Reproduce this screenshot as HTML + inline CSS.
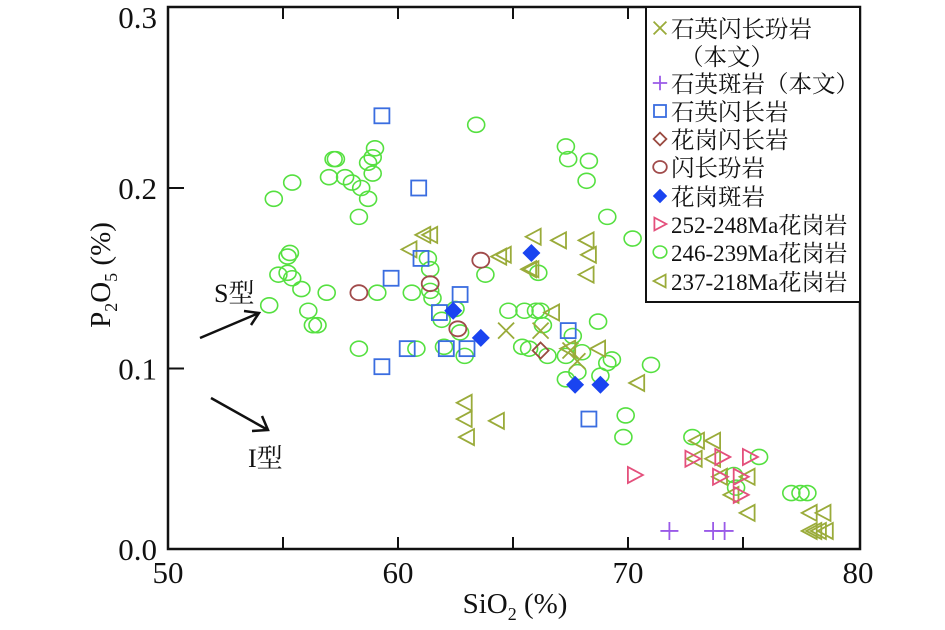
<!DOCTYPE html>
<html><head><meta charset="utf-8"><style>
body{margin:0;background:#fff;}
svg{display:block;}
text{font-family:"Liberation Serif","Noto Serif CJK SC","Noto Sans CJK SC",serif;fill:#111;}
</style></head><body>
<svg id="chart" width="945" height="630" viewBox="0 0 945 630" xmlns="http://www.w3.org/2000/svg">
<rect x="168" y="7" width="692" height="542" fill="none" stroke="#111" stroke-width="2.5"/>
<g id="ticks"></g>
<g id="marks"></g>
<text x="515" y="613" text-anchor="middle" font-size="29">SiO<tspan font-size="18" dy="7">2</tspan><tspan dy="-7"> (%)</tspan></text>
<text transform="translate(110,275) rotate(-90)" text-anchor="middle" font-size="29">P<tspan font-size="18" dy="7">2</tspan><tspan dy="-7">O</tspan><tspan font-size="18" dy="7">5</tspan><tspan dy="-7"> (%)</tspan></text>
<text x="214" y="302" font-size="26">S型</text>
<text x="248" y="467" font-size="26">I型</text>
<g stroke="#111" stroke-width="2.5" fill="none"><line x1="200" y1="338" x2="259" y2="313"/><polyline points="244,311 259,313 251,325"/></g>
<g stroke="#111" stroke-width="2.5" fill="none"><line x1="211" y1="398" x2="268" y2="430"/><polyline points="262,416 268,430 252,431"/></g>
<g>
<rect x="646" y="7" width="214" height="295" fill="#fff" stroke="#111" stroke-width="2"/>
<g id="legend-items"></g>
</g>
</svg>
<script>
const xTicks=[50,60,70,80];
const yTicks=[0.0,0.1,0.2,0.3];
const yTickLabels=["0.0","0.1","0.2","0.3"];
const gXs=[54.6,55.4,57.2,57.3,57.0,57.7,58.0,58.4,58.9,59.0,58.7,58.9,58.7,58.3,54.8,55.3,55.2,55.2,55.4,55.8,56.1,56.3,56.5,56.9,54.4,58.3,59.1,60.8,60.6,61.3,61.4,61.4,61.9,62.0,62.7,63.4,63.8,64.8,65.5,66.0,66.2,65.4,66.1,66.3,65.7,67.3,67.4,68.3,68.2,69.1,70.2,68.7,67.6,67.3,68.0,69.1,69.3,71.0,69.9,69.8,67.3,67.8,68.8,74.7,75.7,74.6,77.1,77.5,77.8,72.8,66.5,62.9,62.5,61.5];
const gYs=[0.194,0.203,0.216,0.216,0.206,0.206,0.203,0.200,0.208,0.222,0.214,0.217,0.194,0.184,0.152,0.164,0.162,0.153,0.150,0.144,0.132,0.124,0.124,0.142,0.135,0.111,0.142,0.111,0.142,0.161,0.155,0.143,0.127,0.112,0.120,0.235,0.152,0.132,0.132,0.132,0.132,0.112,0.153,0.124,0.111,0.223,0.216,0.215,0.204,0.184,0.172,0.126,0.118,0.107,0.109,0.103,0.105,0.102,0.074,0.062,0.094,0.098,0.096,0.034,0.051,0.041,0.031,0.031,0.031,0.062,0.107,0.107,0.133,0.139];
const oXs=[60.5,61.4,61.1,64.6,65.9,65.8,67.0,68.2,68.3,68.2,64.4,65.7,66.7,67.4,68.7,70.4,62.9,62.9,64.3,63.0,73.0,73.7,72.9,73.7,74.0,75.2,74.5,75.2,77.9,78.5,77.9,78.1,78.3,78.6];
const oYs=[0.166,0.174,0.174,0.163,0.173,0.155,0.171,0.171,0.163,0.152,0.162,0.155,0.131,0.111,0.111,0.092,0.081,0.072,0.071,0.062,0.060,0.060,0.050,0.050,0.040,0.040,0.030,0.020,0.020,0.020,0.010,0.010,0.010,0.010];
const rXs=[70.3,74.1,75.3,74.0,74.9,74.9,72.8];
const rYs=[0.041,0.051,0.051,0.040,0.040,0.030,0.050];
const sqXs=[59.3,60.9,61.0,59.7,62.7,61.8,59.3,60.4,62.1,63.0,67.4,68.3];
const sqYs=[0.240,0.200,0.161,0.150,0.141,0.131,0.101,0.111,0.111,0.111,0.121,0.072];
const gdXs=[66.2];
const gdYs=[0.110];
const dpXs=[58.3,61.4,63.6,62.6];
const dpYs=[0.142,0.147,0.160,0.122];
const fdXs=[62.4,63.6,65.8,67.7,68.8];
const fdYs=[0.132,0.117,0.164,0.091,0.091];
const crXs=[64.7,66.2,67.5,67.8];
const crYs=[0.121,0.121,0.110,0.104];
const plXs=[71.8,73.7,74.2];
const plYs=[0.010,0.010,0.010];
const legendLabels=["石英闪长玢岩","（本文）","石英斑岩（本文）","石英闪长岩","花岗闪长岩","闪长玢岩","花岗斑岩","252-248Ma花岗岩","246-239Ma花岗岩","237-218Ma花岗岩"];

const NS="http://www.w3.org/2000/svg";
const X=v=>168+(v-50)*23;
const Y=v=>549-v*1805;
function mk(tag,attrs,parent){const e=document.createElementNS(NS,tag);for(const k in attrs)e.setAttribute(k,attrs[k]);parent.appendChild(e);return e;}
const ticks=document.getElementById('ticks');
const marks=document.getElementById('marks');
[55,60,65,70,75].forEach(v=>{
  let t=mk('line',{x1:X(v),x2:X(v),y1:549,y2:537,stroke:'#111','stroke-width':2},ticks);
  
  
  let t2=mk('line',{x1:X(v),x2:X(v),y1:7,y2:19,stroke:'#111','stroke-width':2},ticks);
  
  
});
xTicks.forEach(v=>{
  let t=mk('text',{x:X(v),y:583,'text-anchor':'middle','font-size':31},ticks);t.textContent=v;
  
  
});
yTicks.forEach((v,i)=>{
  if(i>0&&i<3){let l=mk('line',{x1:168,x2:184,y1:Y(v),y2:Y(v),stroke:'#111','stroke-width':2},ticks);
  
  }
  let y=Y(v)+11; if(y<28)y=28;
  let t=mk('text',{x:157,y:y,'text-anchor':'end','font-size':31},ticks);t.textContent=yTickLabels[i];
  
  
});
function marker(type,cx,cy,parent,s){
  s=s||1;let e;
  if(type==='circle')e=mk('ellipse',{cx,cy,rx:8.5*s,ry:7.5*s,fill:'none',stroke:'#55e040','stroke-width':1.6},parent);
  else if(type==='ltri')e=mk('polygon',{points:`${cx-8*s},${cy} ${cx+7*s},${cy-8*s} ${cx+7*s},${cy+8*s}`,fill:'none',stroke:'#9aab3a','stroke-width':1.8},parent);
  else if(type==='rtri')e=mk('polygon',{points:`${cx+8*s},${cy} ${cx-7*s},${cy-8*s} ${cx-7*s},${cy+8*s}`,fill:'none',stroke:'#e4507c','stroke-width':1.8},parent);
  else if(type==='square')e=mk('rect',{x:cx-7.5*s,y:cy-7.5*s,width:15*s,height:15*s,fill:'none',stroke:'#3a6de0','stroke-width':1.8},parent);
  else if(type==='gdiamond')e=mk('polygon',{points:`${cx},${cy-8*s} ${cx+8*s},${cy} ${cx},${cy+8*s} ${cx-8*s},${cy}`,fill:'none',stroke:'#9a4a40','stroke-width':1.8},parent);
  else if(type==='dcircle')e=mk('ellipse',{cx,cy,rx:8.5*s,ry:7.5*s,fill:'none',stroke:'#a04a4a','stroke-width':1.8},parent);
  else if(type==='fdiamond')e=mk('polygon',{points:`${cx},${cy-9*s} ${cx+9*s},${cy} ${cx},${cy+9*s} ${cx-9*s},${cy}`,fill:'#1a44f0'},parent);
  else if(type==='cross')e=mk('path',{d:`M${cx-8*s},${cy-8*s}L${cx+8*s},${cy+8*s}M${cx+8*s},${cy-8*s}L${cx-8*s},${cy+8*s}`,stroke:'#9aab3a','stroke-width':1.8,fill:'none'},parent);
  else if(type==='plus')e=mk('path',{d:`M${cx-9*s},${cy}L${cx+9*s},${cy}M${cx},${cy-9*s}L${cx},${cy+9*s}`,stroke:'#9a5ae8','stroke-width':1.8,fill:'none'},parent);
  return e;
}
const series=[['circle',gXs,gYs,'granite-246-239-point'],['ltri',oXs,oYs,'granite-237-218-point'],['rtri',rXs,rYs,'granite-252-248-point'],['square',sqXs,sqYs,'quartz-diorite-point'],['gdiamond',gdXs,gdYs,'granodiorite-point'],['dcircle',dpXs,dpYs,'diorite-porphyrite-point'],['fdiamond',fdXs,fdYs,'granite-porphyry-point'],['cross',crXs,crYs,'quartz-diorite-porphyrite-point'],['plus',plXs,plYs,'quartz-porphyry-point']];
series.forEach(([t,xs,ys,name])=>{xs.forEach((x,i)=>{
  const e=marker(t,X(x),Y(ys[i]),marks);
  
  
});});
const li=document.getElementById('legend-items');
const legendTypes=['cross',null,'plus','square','gdiamond','dcircle','fdiamond','rtri','circle','ltri'];
const legendYs=[28,56,83,111,139,167,196,224,252,281];
legendLabels.forEach((lab,i)=>{
  if(legendTypes[i]){const m=marker(legendTypes[i],660,legendYs[i],li,0.8);
  
  }
  const t=mk('text',{x:i===1?680:671,y:legendYs[i]+9,'font-size':i>=7?23:23.5},li);
  t.textContent=lab;
  
  
});
</script>
</body></html>
